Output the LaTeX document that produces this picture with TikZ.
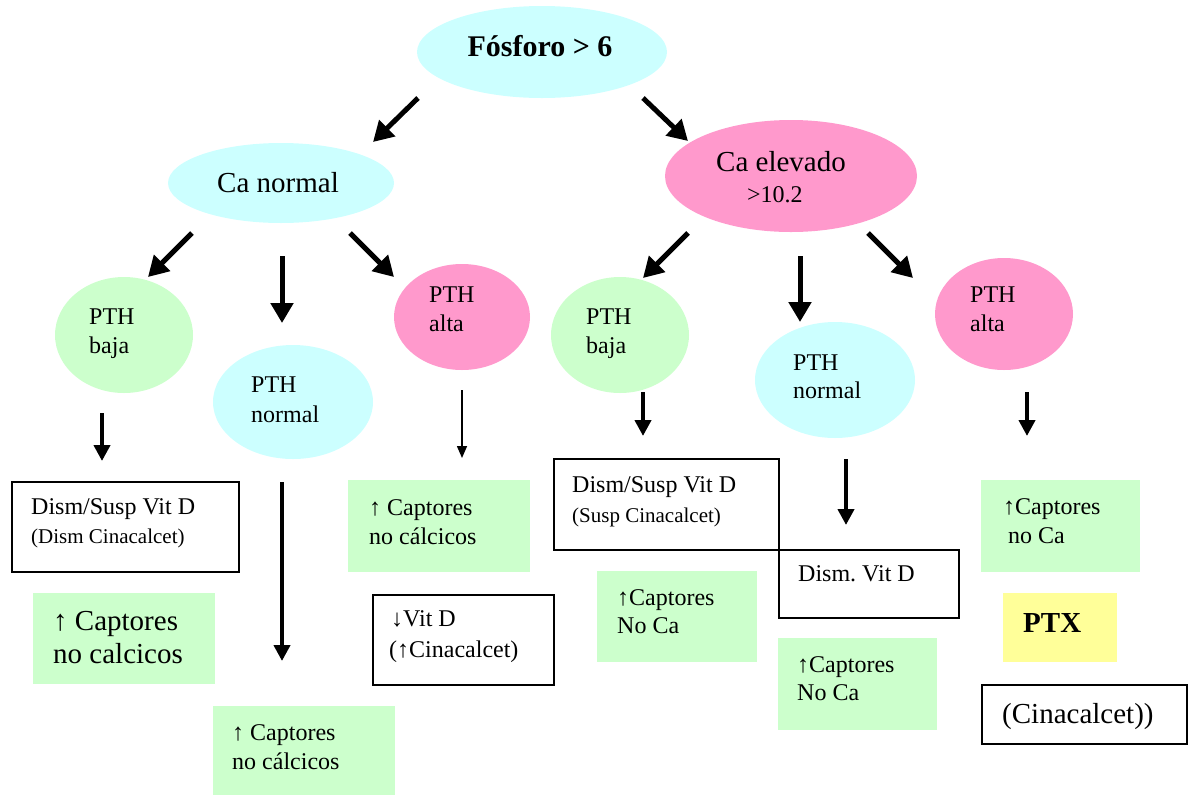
\documentclass[tikz,border=0pt]{standalone}
\usepackage{fontspec}
\setmainfont{Liberation Serif}
\usetikzlibrary{arrows.meta,shapes.geometric}
\definecolor{cyanf}{HTML}{CCFFFF}
\definecolor{pinkf}{HTML}{FF99CC}
\definecolor{greenf}{HTML}{CCFFCC}
\definecolor{yellowf}{HTML}{FFFF99}
\frenchspacing
\begin{document}
\begin{tikzpicture}[x=1pt,y=-1pt,
  ell/.style={ellipse,draw=none,inner sep=0pt,outer sep=0pt},
  wbox/.style={rectangle,draw=black,line width=1.8pt,fill=white,anchor=north west,inner sep=0pt},
  gbox/.style={rectangle,draw=none,fill=greenf,anchor=north west,inner sep=0pt},
  ybox/.style={rectangle,draw=none,fill=yellowf,anchor=north west,inner sep=0pt},
  tx/.style={anchor=base west,inner sep=0pt,font=\fontsize{24}{29}\selectfont},
  tsm/.style={anchor=base west,inner sep=0pt,font=\fontsize{21}{25}\selectfont},
  tbig/.style={anchor=base west,inner sep=0pt,font=\fontsize{29}{34}\selectfont},
  thick arrow/.style={line width=5pt,-{Triangle[length=20pt,width=22pt]}},
  med arrow/.style={line width=4pt,-{Triangle[length=16pt,width=16pt]}},
  thin arrow/.style={line width=1.5pt,-{Triangle[length=12pt,width=10pt]}}]
\useasboundingbox (0,0) rectangle (1189,796);

% ellipses
\node[ell,fill=cyanf,minimum width=250,minimum height=92] (fos) at (542,52) {};
\node[ell,fill=cyanf,minimum width=226,minimum height=80] (can) at (281,183) {};
\node[ell,fill=pinkf,minimum width=252,minimum height=112] (cae) at (791,176) {};
\node[ell,fill=greenf,minimum width=138,minimum height=116] (pbl) at (124,335) {};
\node[ell,fill=cyanf,minimum width=160,minimum height=114] (pnl) at (293,402) {};
\node[ell,fill=pinkf,minimum width=136,minimum height=106] (pal) at (462,317) {};
\node[ell,fill=greenf,minimum width=138,minimum height=116] (pbr) at (620,335) {};
\node[ell,fill=cyanf,minimum width=160,minimum height=116] (pnr) at (835,380) {};
\node[ell,fill=pinkf,minimum width=138,minimum height=112] (par) at (1004,314) {};

% ellipse texts
\node[anchor=base,inner sep=0pt,font=\bfseries\fontsize{30}{36}\selectfont] (tfos) at (540,56) {Fósforo > 6};
\node[anchor=base,inner sep=0pt,font=\fontsize{29}{34}\selectfont] (tcan) at (278,192) {Ca normal};
\node[tbig] (tcae1) at (716,171) {Ca elevado};
\node[tx] (tcae2) at (747,202) {>10.2};
\node[tx] (tpbl1) at (89,324) {PTH};
\node[tx] (tpbl2) at (89,353) {baja};
\node[tx] (tpnl1) at (251,392) {PTH};
\node[tx] (tpnl2) at (251,422) {normal};
\node[tx] (tpal1) at (429,302) {PTH};
\node[tx] (tpal2) at (429,331) {alta};
\node[tx] (tpbr1) at (586,324) {PTH};
\node[tx] (tpbr2) at (586,353) {baja};
\node[tx] (tpnr1) at (793,370) {PTH};
\node[tx] (tpnr2) at (793,398) {normal};
\node[tx] (tpar1) at (970,302) {PTH};
\node[tx] (tpar2) at (970,331) {alta};

% boxes
\node[wbox,minimum width=227,minimum height=90] (b1) at (11,481) {};
\node[tx] (b1a) at (31,514) {Dism/Susp Vit D};
\node[tsm] (b1b) at (31,543) {(Dism Cinacalcet)};

\node[gbox,minimum width=182,minimum height=91] (g1) at (33,593) {};
\node[tbig] (g1a) at (53,630) {↑ Captores};
\node[tbig] (g1b) at (53,663) {no calcicos};

\node[gbox,minimum width=182,minimum height=89] (g2) at (213,706) {};
\node[tx] (g2a) at (232,740) {↑ Captores};
\node[tx] (g2b) at (232,769) {no cálcicos};

\node[gbox,minimum width=182,minimum height=92] (g3) at (348,480) {};
\node[tx] (g3a) at (369,515) {↑ Captores};
\node[tx] (g3b) at (369,544) {no cálcicos};

\node[wbox,minimum width=181,minimum height=90] (b2) at (372,594) {};
\node[tx] (b2a) at (391,626) {↓Vit D};
\node[tx] (b2b) at (389,657) {(↑Cinacalcet)};

\node[wbox,minimum width=225,minimum height=91] (b3) at (553,458) {};
\node[tx] (b3a) at (572,492) {Dism/Susp Vit D};
\node[tsm] (b3b) at (572,522) {(Susp Cinacalcet)};

\node[wbox,minimum width=180,minimum height=68] (b4) at (778,549) {};
\node[tx] (b4a) at (798,581) {Dism. Vit D};

\node[gbox,minimum width=160,minimum height=91] (g4) at (597,571) {};
\node[tx] (g4a) at (617,605) {↑Captores};
\node[tx] (g4b) at (617,633) {No Ca};

\node[gbox,minimum width=159,minimum height=92] (g5) at (778,638) {};
\node[tx] (g5a) at (797,672) {↑Captores};
\node[tx] (g5b) at (797,700) {No Ca};

\node[gbox,minimum width=159,minimum height=92] (g6) at (981,480) {};
\node[tx] (g6a) at (1003,514) {↑Captores};
\node[tx] (g6b) at (1008,543) {no Ca};

\node[ybox,minimum width=114,minimum height=69] (y1) at (1003,593) {};
\node[anchor=base west,inner sep=0pt,font=\bfseries\fontsize{29}{34}\selectfont] (y1a) at (1023,632) {PTX};

\node[wbox,minimum width=205,minimum height=59] (b5) at (981,684) {};
\node[tbig] (b5a) at (1002,723) {(Cinacalcet))};

% arrow end points
\coordinate (a1s) at (418,98);   \coordinate (a1e) at (373,142);
\coordinate (a2s) at (643,98);   \coordinate (a2e) at (688,141);
\coordinate (a3s) at (192,233);  \coordinate (a3e) at (148,277);
\coordinate (a4s) at (282,256);  \coordinate (a4e) at (282,323);
\coordinate (a5s) at (350,233);  \coordinate (a5e) at (394,277);
\coordinate (a6s) at (688,233);  \coordinate (a6e) at (643,278);
\coordinate (a7s) at (800,256);  \coordinate (a7e) at (800,322);
\coordinate (a8s) at (868,233);  \coordinate (a8e) at (913,278);
\coordinate (a9s) at (102,413);  \coordinate (a9e) at (102,461);
\coordinate (a10s) at (282,482); \coordinate (a10e) at (282,661);
\coordinate (a11s) at (462,390); \coordinate (a11e) at (462,458);
\coordinate (a12s) at (643,392); \coordinate (a12e) at (643,436);
\coordinate (a13s) at (846,459); \coordinate (a13e) at (846,525);
\coordinate (a14s) at (1027,392); \coordinate (a14e) at (1027,436);

\draw[thick arrow] (a1s) -- (a1e);
\draw[thick arrow] (a2s) -- (a2e);
\draw[thick arrow] (a3s) -- (a3e);
\draw[thick arrow] (a4s) -- (a4e);
\draw[thick arrow] (a5s) -- (a5e);
\draw[thick arrow] (a6s) -- (a6e);
\draw[thick arrow] (a7s) -- (a7e);
\draw[thick arrow] (a8s) -- (a8e);
\draw[med arrow] (a9s) -- (a9e);
\draw[med arrow] (a10s) -- (a10e);
\draw[thin arrow] (a11s) -- (a11e);
\draw[med arrow] (a12s) -- (a12e);
\draw[med arrow] (a13s) -- (a13e);
\draw[med arrow] (a14s) -- (a14e);
\end{tikzpicture}
\end{document}
